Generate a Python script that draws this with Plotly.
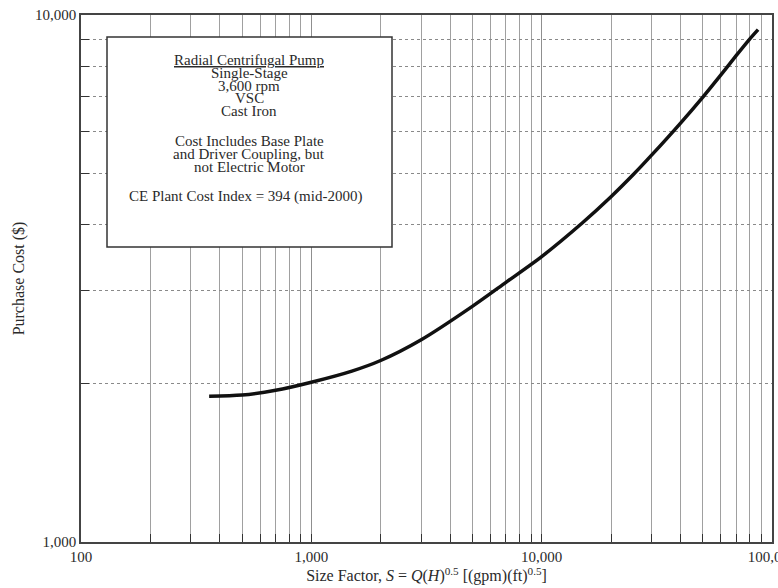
import plotly.graph_objects as go

# Data
size_factor = [360, 500, 700, 1000, 1500, 2000, 3000, 5000, 7000, 10000, 15000, 20000,
               25000, 30000, 40000, 50000, 60000, 70000, 80000, 87000]
purchase_cost = [1890, 1900, 1940, 2010, 2110, 2210, 2420, 2800, 3110, 3480, 4030, 4520,
                 4980, 5420, 6230, 6980, 7700, 8380, 9000, 9380]

x_major = [100, 1000, 10000, 100000]
x_major_text = ["100", "1,000", "10,000", "100,000"]
x_minor = [m * d for d in (100, 1000, 10000) for m in range(2, 10)]
y_major = [1000, 10000]
y_major_text = ["1,000", "10,000"]
y_minor = [m * 1000 for m in range(2, 10)]

box_lines = [
    "<u>Radial Centrifugal Pump</u>",
    "Single-Stage",
    "3,600 rpm",
    "VSC",
    "Cast Iron",
    "",
    "Cost Includes Base Plate",
    "and Driver Coupling, but",
    "not Electric Motor",
    "",
    "CE Plant Cost Index = 394 (mid-2000)",
]

FONT = "Liberation Serif, Times New Roman, serif"
TXT = "#2a2a2a"

fig = go.Figure()
fig.add_trace(go.Scatter(
    x=size_factor, y=purchase_cost, mode="lines",
    line=dict(color="#111111", width=3.5, shape="spline", smoothing=0.8),
    showlegend=False, hoverinfo="skip",
))

axis_common = dict(
    showline=True, linecolor="#444444", linewidth=1.5, mirror=True,
    ticks="inside", ticklen=8, tickcolor="#333333",
    tickfont=dict(family=FONT, size=15, color=TXT),
    zeroline=False, automargin=False, ticklabeloverflow="allow",
)

fig.update_xaxes(
    type="log", range=[2, 5],
    tickmode="array", tickvals=x_major, ticktext=x_major_text,
    showgrid=True, gridcolor="#8f8f8f", gridwidth=1,
    minor=dict(tickvals=x_minor, ticks="inside", ticklen=8, tickcolor="#333333",
               showgrid=True, gridcolor="#a0a0a0", gridwidth=1),
    title=dict(text="Size Factor, <i>S</i> = <i>Q</i>(<i>H</i>)<sup>0.5</sup> [(gpm)(ft)<sup>0.5</sup>]",
               font=dict(family=FONT, size=16, color=TXT), standoff=0),
    **axis_common,
)
fig.update_yaxes(
    type="log", range=[3, 4],
    tickmode="array", tickvals=y_major, ticktext=y_major_text,
    showgrid=False,
    minor=dict(tickvals=y_minor, ticks="inside", ticklen=8, tickcolor="#333333",
               showgrid=True, gridcolor="#8a8a8a", gridwidth=1, griddash="dot"),
    title=dict(text="Purchase Cost ($)", font=dict(family=FONT, size=16, color=TXT), standoff=6),
    **axis_common,
)

# Info box
fig.add_shape(type="rect", xref="paper", yref="paper",
              x0=(107 - 81) / 691, x1=(392 - 81) / 691,
              y0=(542 - 247) / 527, y1=(542 - 37) / 527,
              line=dict(color="#333333", width=1.5), fillcolor="white", layer="above")

line_px = [60, 73, 86, 98, 111, None, 141, 154, 167, None, 196]
centers = [249, 249, 249, 249, 249, None, 249, 249, 249, None, 245]
for txt, py, cx in zip(box_lines, line_px, centers):
    if not txt:
        continue
    fig.add_annotation(text=txt, xref="paper", yref="paper",
                       x=(cx - 81) / 691, y=(542 - py) / 527,
                       xanchor="center", yanchor="middle", showarrow=False,
                       font=dict(family=FONT, size=15, color=TXT))

fig.update_layout(
    width=778, height=588,
    margin=dict(l=81, r=6, t=15, b=46, autoexpand=False),
    paper_bgcolor="white", plot_bgcolor="white",
    font=dict(family=FONT),
)

fig.write_html("out.html", config={"displayModeBar": False},
               post_script="document.body.style.margin='0';document.body.style.overflow='hidden';")
